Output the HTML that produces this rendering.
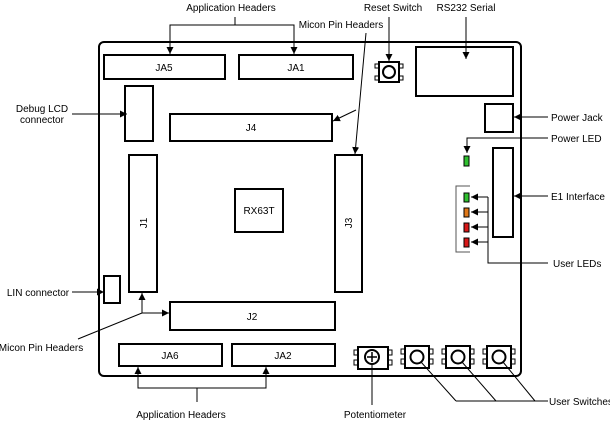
<!DOCTYPE html>
<html><head><meta charset="utf-8"><style>
html,body{margin:0;padding:0;background:#fff;}
svg{display:block;font-family:"Liberation Sans",Arial,sans-serif;font-size:10px;}
</style></head><body>
<svg width="610" height="421" viewBox="0 0 610 421" xmlns="http://www.w3.org/2000/svg">
<defs>
<marker id="a" markerWidth="8" markerHeight="8" refX="7" refY="4" orient="auto" markerUnits="userSpaceOnUse">
<path d="M0,0.5 L7,4 L0,7.5 z" fill="#000"/></marker>
</defs>
<g fill="none" stroke="#000">
<rect x="99" y="42" width="422" height="334" rx="5" stroke-width="2"/>
<g stroke-width="2">
<rect x="104" y="55" width="121" height="24"/>
<rect x="239" y="55" width="114" height="24"/>
<rect x="125" y="86" width="28" height="55"/>
<rect x="170" y="114" width="162" height="27"/>
<rect x="416" y="47" width="97" height="49"/>
<rect x="485" y="104" width="28" height="28"/>
<rect x="493" y="148" width="20" height="89"/>
<rect x="129" y="155" width="28" height="137"/>
<rect x="335" y="155" width="27" height="137"/>
<rect x="235" y="189" width="48" height="43"/>
<rect x="104" y="276" width="16" height="27"/>
<rect x="170" y="302" width="165" height="28"/>
<rect x="119" y="344" width="103" height="22"/>
<rect x="232" y="344" width="103" height="22"/>
<rect x="379" y="62" width="20" height="20"/>
<rect x="358" y="347" width="30" height="22"/>
<rect x="405" y="346" width="24" height="22"/>
<rect x="446" y="346" width="24" height="22"/>
<rect x="487" y="346" width="24" height="22"/>
</g>
<g stroke-width="1">
<rect x="375" y="64" width="4" height="4"/><rect x="375" y="76" width="4" height="4"/>
<rect x="399" y="64" width="4" height="4"/><rect x="399" y="76" width="4" height="4"/>
<rect x="354" y="350" width="4" height="5"/><rect x="354" y="360" width="4" height="5"/>
<rect x="388" y="350" width="4" height="5"/><rect x="388" y="360" width="4" height="5"/>
<rect x="401" y="349" width="4" height="5"/><rect x="401" y="359" width="4" height="5"/>
<rect x="429" y="349" width="4" height="5"/><rect x="429" y="359" width="4" height="5"/>
<rect x="442" y="349" width="4" height="5"/><rect x="442" y="359" width="4" height="5"/>
<rect x="470" y="349" width="4" height="5"/><rect x="470" y="359" width="4" height="5"/>
<rect x="483" y="349" width="4" height="5"/><rect x="483" y="359" width="4" height="5"/>
<rect x="511" y="349" width="4" height="5"/><rect x="511" y="359" width="4" height="5"/>
</g>
<g stroke-width="2">
<circle cx="389" cy="72" r="6"/>
<circle cx="372" cy="357" r="7"/>
<circle cx="417" cy="357" r="6.5"/>
<circle cx="458" cy="357" r="6.5"/>
<circle cx="499" cy="357" r="6.5"/>
</g>
<path d="M372,352 V362 M367,357 H377" stroke-width="1.5"/>
<path d="M470,186 H456 V252 H470" stroke="#555" stroke-width="1"/>
</g>
<g stroke="#000">
<rect x="464" y="156" width="5" height="10" fill="#2fc02f" stroke-width="1"/>
<rect x="464" y="193" width="5" height="9" fill="#2fc02f" stroke-width="1"/>
<rect x="464" y="208" width="5" height="9" fill="#e07818" stroke-width="1"/>
<rect x="464" y="223" width="5" height="9" fill="#d81818" stroke-width="1"/>
<rect x="464" y="238" width="5" height="9" fill="#d81818" stroke-width="1"/>
</g>
<g fill="none" stroke="#000" stroke-width="1">
<path d="M235,17 V25 M170,54 V25 H294 V54"/>
<path d="M170,25 V54" marker-end="url(#a)"/><path d="M294,25 V54" marker-end="url(#a)"/>
<path d="M366,33 L355,154" marker-end="url(#a)"/>
<path d="M356,110 L333,121" marker-end="url(#a)"/>
<path d="M389,17 V61" marker-end="url(#a)"/>
<path d="M466,17 V59" marker-end="url(#a)"/>
<path d="M72,114 H127" marker-end="url(#a)"/>
<path d="M548,117 H514" marker-end="url(#a)"/>
<path d="M548,138 H467 V153" marker-end="url(#a)"/>
<path d="M548,196 H514" marker-end="url(#a)"/>
<path d="M548,263 H488 V197"/>
<path d="M488,197 H471" marker-end="url(#a)"/>
<path d="M488,212 H471" marker-end="url(#a)"/>
<path d="M488,227 H471" marker-end="url(#a)"/>
<path d="M488,242 H471" marker-end="url(#a)"/>
<path d="M72,292 H104" marker-end="url(#a)"/>
<path d="M78,339 L142,313 V293" marker-end="url(#a)"/>
<path d="M142,313 H169" marker-end="url(#a)"/>
<path d="M197,402 V388 H138 V367" marker-end="url(#a)"/>
<path d="M197,388 H266 V367" marker-end="url(#a)"/>
<path d="M372,364 V405"/>
<path d="M456,401 L421,362 M496,401 L462,362 M535,401 L503,362 M456,401 H548"/>
</g>
<g fill="#000">
<text x="231" y="11" text-anchor="middle">Application Headers</text>
<text x="341" y="28" text-anchor="middle">Micon Pin Headers</text>
<text x="393" y="11" text-anchor="middle">Reset Switch</text>
<text x="466" y="11" text-anchor="middle">RS232 Serial</text>
<text x="42" y="112" text-anchor="middle">Debug LCD</text>
<text x="42" y="123" text-anchor="middle">connector</text>
<text x="551" y="121">Power Jack</text>
<text x="551" y="142">Power LED</text>
<text x="551" y="200">E1 Interface</text>
<text x="553" y="267">User LEDs</text>
<text x="38" y="296" text-anchor="middle">LIN connector</text>
<text x="41" y="351" text-anchor="middle">Micon Pin Headers</text>
<text x="181" y="418" text-anchor="middle">Application Headers</text>
<text x="375" y="418" text-anchor="middle">Potentiometer</text>
<text x="549" y="405">User Switches</text>
<text x="164" y="71" text-anchor="middle">JA5</text>
<text x="296" y="71" text-anchor="middle">JA1</text>
<text x="251" y="131" text-anchor="middle">J4</text>
<text x="259" y="214" text-anchor="middle">RX63T</text>
<text x="252" y="320" text-anchor="middle">J2</text>
<text x="170" y="359" text-anchor="middle">JA6</text>
<text x="283" y="359" text-anchor="middle">JA2</text>
<text transform="translate(147,223) rotate(-90)" text-anchor="middle">J1</text>
<text transform="translate(352,223) rotate(-90)" text-anchor="middle">J3</text>
</g>
</svg>
</body></html>
